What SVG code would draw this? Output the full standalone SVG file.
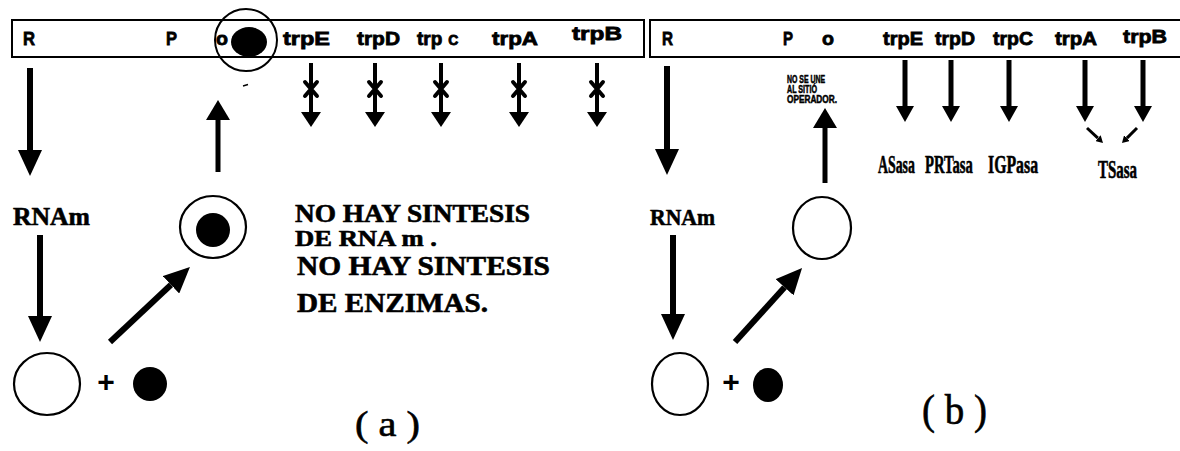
<svg xmlns="http://www.w3.org/2000/svg" width="1180" height="451" viewBox="0 0 1180 451">
  <style>
    .box { fill: none; stroke: #000; stroke-width: 2; }
    .gene { font-family: "Liberation Sans", Arial, sans-serif; font-weight: bold; font-size: 19px; fill: #000; stroke: #000; stroke-width: 0.8; }
    .serif { font-family: "Liberation Serif", "Times New Roman", serif; font-weight: bold; fill: #000; stroke: #000; stroke-width: 0.6; }
    .cap { font-family: "Liberation Serif", "Times New Roman", serif; fill: #000; stroke: #000; stroke-width: 0.6; }
    .note { font-family: "Liberation Sans", Arial, sans-serif; font-weight: bold; font-size: 10px; fill: #000; stroke: #000; stroke-width: 0.5; }
    .ring { fill: #fff; stroke: #000; stroke-width: 2.2; }
    .dot { fill: #000; }
    .plus { font-family: "Liberation Sans", Arial, sans-serif; font-weight: bold; font-size: 30px; fill: #000; }
    .shaft { stroke: #000; fill: none; }
    .w6 { stroke-width: 6; }
    .w5 { stroke-width: 5; }
    .w4 { stroke-width: 4; }
    .w3 { stroke-width: 3; }
    .cross { stroke: #000; stroke-width: 4; stroke-linecap: round; }
  </style>
  <defs>
    <marker id="ah-lg" viewBox="0 0 10 10" refX="0" refY="5" markerWidth="26" markerHeight="24" markerUnits="userSpaceOnUse" orient="auto" preserveAspectRatio="none">
      <path d="M0,0 L10,5 L0,10 z" fill="#000"/>
    </marker>
    <marker id="ah-up" viewBox="0 0 10 10" refX="0" refY="5" markerWidth="20" markerHeight="24" markerUnits="userSpaceOnUse" orient="auto" preserveAspectRatio="none">
      <path d="M0,0 L10,5 L0,10 z" fill="#000"/>
    </marker>
    <marker id="ah-sm" viewBox="0 0 10 10" refX="0" refY="5" markerWidth="15" markerHeight="20" markerUnits="userSpaceOnUse" orient="auto" preserveAspectRatio="none">
      <path d="M0,0 L10,5 L0,10 z" fill="#000"/>
    </marker>
    <marker id="ah-b" viewBox="0 0 10 10" refX="0" refY="5" markerWidth="16" markerHeight="18" markerUnits="userSpaceOnUse" orient="auto" preserveAspectRatio="none">
      <path d="M0,0 L10,5 L0,10 z" fill="#000"/>
    </marker>
    <marker id="ah-xs" viewBox="0 0 10 10" refX="0" refY="5" markerWidth="7" markerHeight="8" markerUnits="userSpaceOnUse" orient="auto" preserveAspectRatio="none">
      <path d="M0,0 L10,5 L0,10 z" fill="#000"/>
    </marker>
  </defs>

  <rect x="0" y="0" width="1180" height="451" fill="#fff"/>

  <!-- Panel (a): repressed operon -->
  <g id="operon-a">
    <rect class="box" x="12" y="20" width="632" height="37"/>
    <text class="gene" x="23" y="45" textLength="12" lengthAdjust="spacingAndGlyphs">R</text>
    <text class="gene" x="166" y="45" textLength="11" lengthAdjust="spacingAndGlyphs">P</text>
    <text class="gene" x="216" y="45" font-size="17" textLength="12" lengthAdjust="spacingAndGlyphs">o</text>
    <text class="gene" x="283" y="45" textLength="47" lengthAdjust="spacingAndGlyphs">trpE</text>
    <text class="gene" x="357" y="45" textLength="43" lengthAdjust="spacingAndGlyphs">trpD</text>
    <text class="gene" x="417" y="45">trp<tspan font-size="14" dx="6">C</tspan></text>
    <text class="gene" x="492" y="45" textLength="46" lengthAdjust="spacingAndGlyphs">trpA</text>
    <text class="gene" x="572" y="40" textLength="50" lengthAdjust="spacingAndGlyphs">trpB</text>
  </g>

  <g id="bound-repressor-a">
    <ellipse class="dot" cx="249" cy="42" rx="18" ry="15"/>
    <circle cx="246" cy="40" r="31" fill="none" stroke="#000" stroke-width="2"/>
    <line x1="243" y1="86" x2="248" y2="84.5" stroke="#000" stroke-width="1.5"/>
  </g>

  <g id="mrna-a">
    <text class="serif" x="13" y="225" font-size="26" textLength="77" lengthAdjust="spacingAndGlyphs">RNAm</text>
  </g>

  <g id="active-repressor-a">
    <ellipse class="ring" cx="213" cy="227" rx="33" ry="31"/>
    <circle class="dot" cx="213" cy="230" r="17"/>
  </g>

  <g id="aporepressor-a">
    <ellipse class="ring" cx="47" cy="384" rx="33" ry="31"/>
    <text class="plus" x="106" y="392" text-anchor="middle">+</text>
    <circle class="dot" cx="150" cy="384" r="17"/>
  </g>

  <g id="notes-a">
    <text class="serif" x="295" y="222" font-size="25" textLength="235" lengthAdjust="spacingAndGlyphs">NO HAY SINTESIS</text>
    <text class="serif" x="295" y="246" font-size="23" textLength="142" lengthAdjust="spacingAndGlyphs">DE RNA m .</text>
    <text class="serif" x="297" y="275" font-size="27" textLength="253" lengthAdjust="spacingAndGlyphs">NO HAY SINTESIS</text>
    <text class="serif" x="297" y="312" font-size="27" textLength="191" lengthAdjust="spacingAndGlyphs">DE ENZIMAS.</text>
  </g>

  <g id="label-a">
    <text class="cap" x="355" y="436" font-size="36" textLength="65" lengthAdjust="spacingAndGlyphs">( a )</text>
  </g>

  <!-- Panel (b): induced operon -->
  <g id="operon-b">
    <rect class="box" x="650" y="20" width="540" height="37"/>
    <text class="gene" x="662" y="45" textLength="11" lengthAdjust="spacingAndGlyphs">R</text>
    <text class="gene" x="783" y="45" textLength="10" lengthAdjust="spacingAndGlyphs">P</text>
    <text class="gene" x="822" y="45" textLength="12" lengthAdjust="spacingAndGlyphs">o</text>
    <text class="gene" x="883" y="45" textLength="40" lengthAdjust="spacingAndGlyphs">trpE</text>
    <text class="gene" x="935" y="45" textLength="40" lengthAdjust="spacingAndGlyphs">trpD</text>
    <text class="gene" x="993" y="45" textLength="40" lengthAdjust="spacingAndGlyphs">trpC</text>
    <text class="gene" x="1055" y="45" textLength="42" lengthAdjust="spacingAndGlyphs">trpA</text>
    <text class="gene" x="1123" y="43" textLength="44" lengthAdjust="spacingAndGlyphs">trpB</text>
  </g>

  <g id="operator-note-b">
    <text class="note" x="787" y="83" textLength="38" lengthAdjust="spacingAndGlyphs">NO SE UNE</text>
    <text class="note" x="787" y="93" textLength="30" lengthAdjust="spacingAndGlyphs">AL SITIÓ</text>
    <text class="note" x="787" y="103" textLength="50" lengthAdjust="spacingAndGlyphs">OPERADOR.</text>
  </g>

  <!-- enzyme names set in a narrow (horizontally squeezed) serif -->
  <g id="enzymes-b">
    <text class="serif" transform="translate(878,173) scale(0.55,1)" font-size="26" textLength="67" lengthAdjust="spacingAndGlyphs">ASasa</text>
    <text class="serif" transform="translate(925,173) scale(0.55,1)" font-size="26" textLength="87" lengthAdjust="spacingAndGlyphs">PRTasa</text>
    <text class="serif" transform="translate(988,173) scale(0.55,1)" font-size="26" textLength="91" lengthAdjust="spacingAndGlyphs">IGPasa</text>
    <text class="serif" transform="translate(1098,178) scale(0.55,1)" font-size="26" textLength="71" lengthAdjust="spacingAndGlyphs">TSasa</text>
  </g>

  <g id="mrna-b">
    <text class="serif" x="650" y="225" font-size="24" textLength="65" lengthAdjust="spacingAndGlyphs">RNAm</text>
  </g>

  <g id="inactive-repressor-b">
    <ellipse class="ring" cx="822" cy="228" rx="29" ry="31"/>
  </g>

  <g id="aporepressor-b">
    <ellipse class="ring" cx="680" cy="384" rx="28" ry="31"/>
    <text class="plus" x="731" y="392" text-anchor="middle">+</text>
    <ellipse class="dot" cx="768" cy="385" rx="15" ry="17"/>
  </g>

  <g id="label-b">
    <text class="cap" x="922" y="424" font-size="42" textLength="65" lengthAdjust="spacingAndGlyphs">( b )</text>
  </g>

  <!-- Connectors -->
  <g id="connectors">
    <!-- panel (a) -->
    <line class="shaft w6" x1="30" y1="68" x2="30" y2="150" marker-end="url(#ah-lg)"/>
    <line class="shaft w6" x1="40" y1="235" x2="40" y2="316" marker-end="url(#ah-lg)"/>
    <line class="shaft w6" x1="110" y1="342" x2="171" y2="284.8" marker-end="url(#ah-lg)"/>
    <line class="shaft w5" x1="218" y1="172" x2="218" y2="120" marker-end="url(#ah-up)"/>

    <line class="shaft w4" x1="311" y1="63" x2="311" y2="112" marker-end="url(#ah-sm)"/>
    <line class="shaft w4" x1="375" y1="63" x2="375" y2="112" marker-end="url(#ah-sm)"/>
    <line class="shaft w4" x1="441" y1="63" x2="441" y2="112" marker-end="url(#ah-sm)"/>
    <line class="shaft w4" x1="519" y1="63" x2="519" y2="112" marker-end="url(#ah-sm)"/>
    <line class="shaft w4" x1="597" y1="63" x2="597" y2="112" marker-end="url(#ah-sm)"/>
    <!-- blocked translation crosses -->
    <path class="cross" d="M305,82 L317,96 M317,82 L305,96"/>
    <path class="cross" d="M369,82 L381,96 M381,82 L369,96"/>
    <path class="cross" d="M435,82 L447,96 M447,82 L435,96"/>
    <path class="cross" d="M513,82 L525,96 M525,82 L513,96"/>
    <path class="cross" d="M591,82 L603,96 M603,82 L591,96"/>

    <!-- panel (b) -->
    <line class="shaft w6" x1="667" y1="66" x2="667" y2="149" marker-end="url(#ah-lg)"/>
    <line class="shaft w6" x1="673" y1="235" x2="673" y2="314" marker-end="url(#ah-lg)"/>
    <line class="shaft w6" x1="735" y1="342" x2="784.6" y2="287.3" marker-end="url(#ah-lg)"/>
    <line class="shaft w5" x1="825" y1="183" x2="825" y2="128" marker-end="url(#ah-up)"/>

    <line class="shaft w5" x1="905" y1="60" x2="905" y2="106" marker-end="url(#ah-b)"/>
    <line class="shaft w5" x1="951" y1="60" x2="951" y2="106" marker-end="url(#ah-b)"/>
    <line class="shaft w5" x1="1009" y1="60" x2="1009" y2="106" marker-end="url(#ah-b)"/>
    <line class="shaft w5" x1="1085" y1="60" x2="1085" y2="106" marker-end="url(#ah-b)"/>
    <line class="shaft w5" x1="1143" y1="60" x2="1143" y2="106" marker-end="url(#ah-b)"/>
    <line class="shaft w3" x1="1087" y1="128" x2="1097.9" y2="138.2" marker-end="url(#ah-xs)"/>
    <line class="shaft w3" x1="1137" y1="128" x2="1126.9" y2="138.1" marker-end="url(#ah-xs)"/>
  </g>
</svg>
